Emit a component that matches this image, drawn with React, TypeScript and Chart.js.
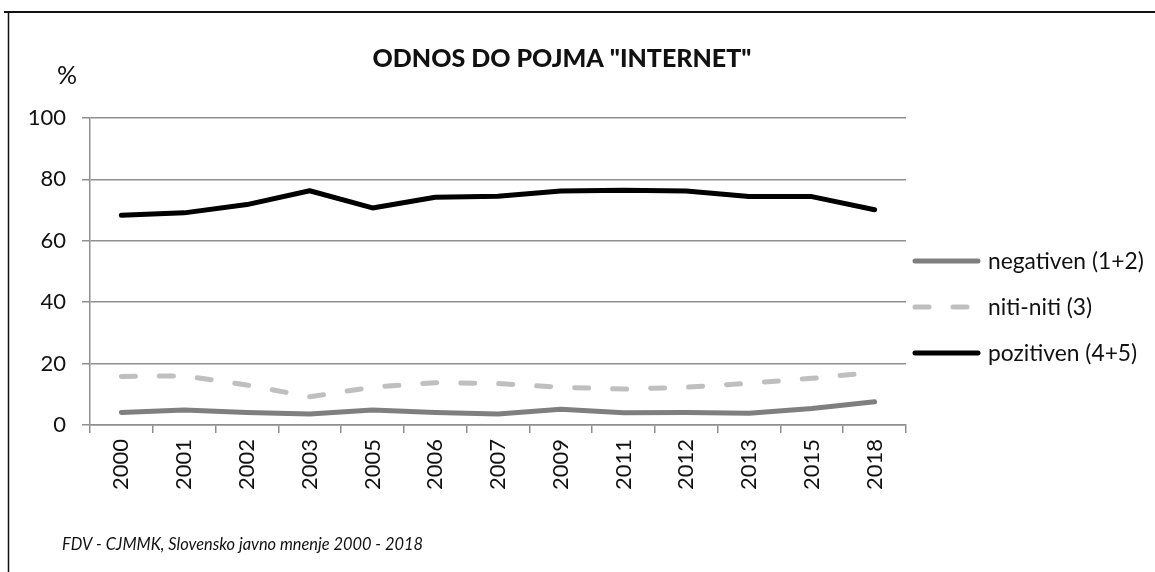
import React, { useEffect, useRef } from "react";
import { Chart, registerables } from "chart.js";

Chart.register(...registerables);

const categories = ["2000", "2001", "2002", "2003", "2005", "2006", "2007", "2009", "2011", "2012", "2013", "2015", "2018"];
const negativen = [4.1, 4.9, 4.1, 3.6, 4.9, 4.1, 3.6, 5.1, 4.0, 4.1, 3.8, 5.4, 7.6];
const nitiNiti = [15.8, 16.0, 13.0, 9.2, 12.3, 13.8, 13.5, 12.3, 11.7, 12.3, 13.6, 15.2, 17.2];
const pozitiven = [68.3, 69.1, 71.8, 76.3, 70.7, 74.2, 74.5, 76.2, 76.5, 76.2, 74.4, 74.4, 70.1];
const seriesLabels = ["negativen (1+2)", "niti-niti (3)", "pozitiven (4+5)"];
const yTicks = [0, 20, 40, 60, 80, 100];

const titleText = 'ODNOS DO POJMA "INTERNET"';
const unitText = "%";
const sourceText = "FDV - CJMMK, Slovensko javno mnenje 2000 - 2018";

const FONT = "Lato, 'Open Sans', sans-serif";
const GRID = "#8f8f8f";

const decorPlugin = {
  id: "decor",
  afterDraw(chart: any) {
    const ctx = chart.ctx as CanvasRenderingContext2D;
    ctx.save();
    // frame (top + left)
    ctx.strokeStyle = "#111";
    ctx.lineWidth = 2;
    ctx.beginPath();
    ctx.moveTo(4, 12);
    ctx.lineTo(1155, 12);
    ctx.stroke();
    ctx.lineWidth = 1.5;
    ctx.beginPath();
    ctx.moveTo(8.5, 12);
    ctx.lineTo(8.5, 572);
    ctx.stroke();

    // title
    ctx.fillStyle = "#111";
    ctx.textAlign = "center";
    ctx.textBaseline = "alphabetic";
    ctx.font = `900 25px ${FONT}`;
    ctx.fillText(titleText, 562, 67);

    // unit
    ctx.textAlign = "left";
    ctx.font = `25px ${FONT}`;
    ctx.fillText(unitText, 57, 84);

    // source
    ctx.font = `italic 16.4px ${FONT}`;
    ctx.fillText(sourceText, 62, 550);

    // legend
    const ys = [261, 307, 353];
    chart.data.datasets.forEach((ds: any, i: number) => {
      const y = ys[i];
      ctx.strokeStyle = ds.borderColor;
      ctx.lineWidth = ds.borderWidth;
      ctx.lineCap = "round";
      ctx.setLineDash(ds.borderDash || []);
      ctx.beginPath();
      ctx.moveTo(915, y);
      ctx.lineTo(978, y);
      ctx.stroke();
      ctx.setLineDash([]);
      ctx.fillStyle = "#111";
      ctx.textBaseline = "middle";
      ctx.font = `22.8px ${FONT}`;
      ctx.fillText(ds.label, 988, y + 1);
    });
    ctx.restore();
  },
};

export default function App() {
  const ref = useRef<HTMLCanvasElement | null>(null);
  useEffect(() => {
    if (!ref.current) return;
    const chart = new Chart(ref.current, {
      type: "line",
      data: {
        labels: categories,
        datasets: [
          {
            label: seriesLabels[0],
            data: negativen,
            borderColor: "#7f7f7f",
            borderWidth: 5,
            pointRadius: 0,
            borderCapStyle: "round",
            borderJoinStyle: "round",
            tension: 0,
          },
          {
            label: seriesLabels[1],
            data: nitiNiti,
            borderColor: "#bfbfbf",
            borderWidth: 5,
            borderDash: [14, 24],
            pointRadius: 0,
            borderCapStyle: "round",
            borderJoinStyle: "round",
            tension: 0,
          },
          {
            label: seriesLabels[2],
            data: pozitiven,
            borderColor: "#000000",
            borderWidth: 5,
            pointRadius: 0,
            borderCapStyle: "round",
            borderJoinStyle: "round",
            tension: 0,
          },
        ],
      },
      options: {
        responsive: false,
        animation: false,
        devicePixelRatio: 1,
        layout: { padding: { left: 0, right: 249, top: 118, bottom: 0 } },
        plugins: {
          legend: { display: false },
          tooltip: { enabled: false },
          title: { display: false },
        },
        scales: {
          x: {
            type: "category",
            offset: true,
            grid: {
              offset: true,
              drawOnChartArea: false,
              drawTicks: true,
              tickLength: 8,
              color: GRID,
              lineWidth: 1.5,
            },
            border: { display: true, color: GRID, width: 1.5 },
            ticks: {
              autoSkip: false,
              minRotation: 90,
              maxRotation: 90,
              padding: 6,
              color: "#111",
              font: { family: FONT, size: 22 },
            },
            afterFit(scale: any) {
              scale.height = 147;
            },
          },
          y: {
            min: 0,
            max: 100,
            afterBuildTicks(scale: any) {
              scale.ticks = yTicks.map((v) => ({ value: v }));
            },
            grid: {
              color: GRID,
              lineWidth: 1.5,
              tickLength: 8,
              drawTicks: true,
            },
            border: { display: true, color: GRID, width: 1.5 },
            ticks: {
              padding: 16,
              color: "#111",
              font: { family: FONT, size: 22 },
            },
            afterFit(scale: any) {
              scale.width = 90;
            },
          },
        },
      },
      plugins: [decorPlugin],
    });
    return () => chart.destroy();
  }, []);
  return (
    <div style={{ position: "fixed", left: 0, top: 0, width: 1155, height: 572, background: "#fff" }}>
      <canvas ref={ref} width={1155} height={572} style={{ width: 1155, height: 572, display: "block" }} />
    </div>
  );
}
